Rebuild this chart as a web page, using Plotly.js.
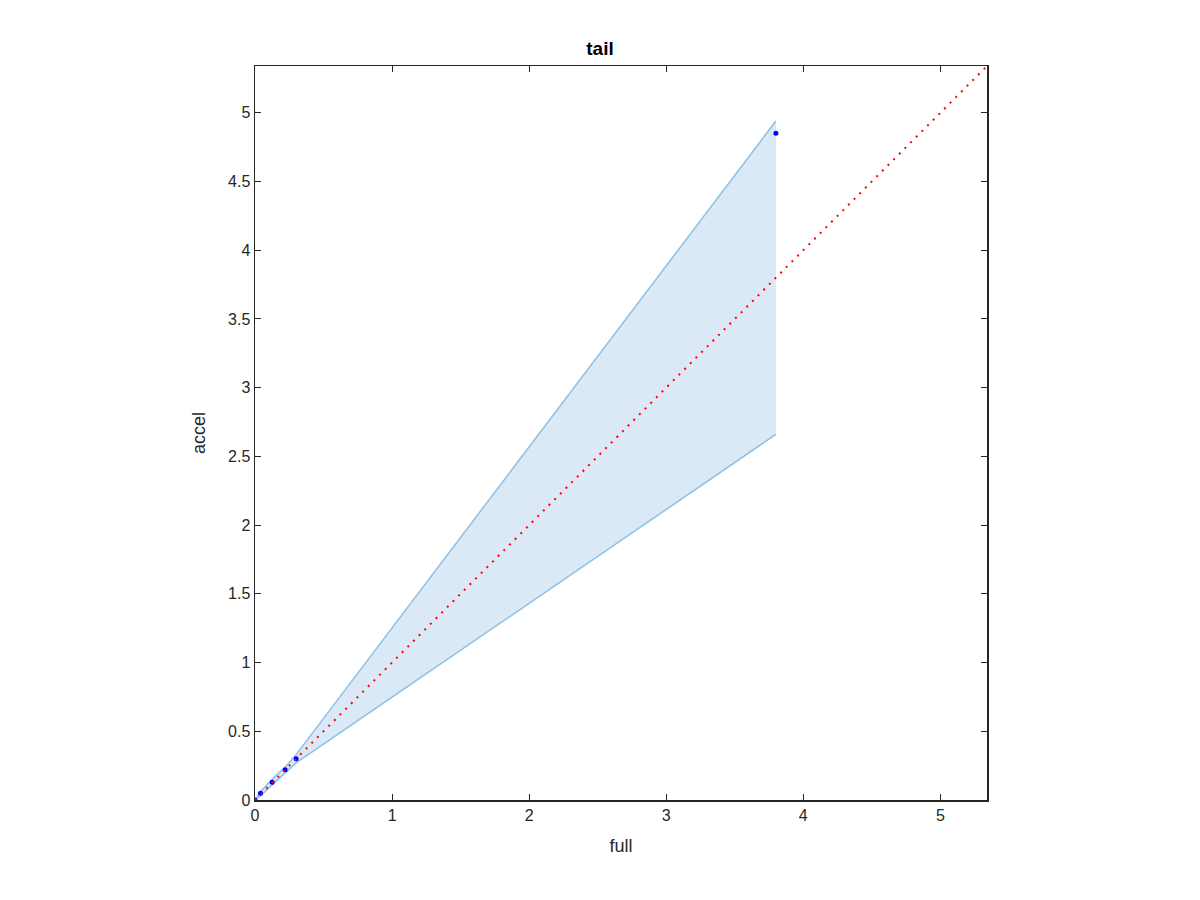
<!DOCTYPE html>
<html><head><meta charset="utf-8">
<script src="https://cdn.plot.ly/plotly-3.0.1.min.js"></script>
<style>body{margin:0;background:#fff}#chart{width:1200px;height:900px}</style>
</head><body><div id="chart"></div>
<script>
const pointX = [0, 0.04, 0.125, 0.22, 0.30, 3.80];
const pointY = [0, 0.05, 0.13, 0.22, 0.30, 4.85];
const bandX = [0, 0.04, 0.125, 0.22, 0.30, 3.80];
const bandUpper = [0, 0.06, 0.15, 0.24, 0.33, 4.94];
const bandLower = [0, 0.03, 0.11, 0.20, 0.27, 2.66];
const refX = [0, 5.34];
const refY = [0, 5.34];
const xTicks = [0, 1, 2, 3, 4, 5];
const yTicks = [0, 0.5, 1, 1.5, 2, 2.5, 3, 3.5, 4, 4.5, 5];
const axisMax = 5.34;

const edge = 'rgb(140,192,228)';
const fontFam = 'Liberation Sans, Arial, sans-serif';
const traces = [
  {x: bandX.concat(bandX.slice().reverse()), y: bandUpper.concat(bandLower.slice().reverse()),
   type:'scatter', mode:'lines', fill:'toself', fillcolor:'rgb(218,233,245)', line:{width:0, color:'rgba(0,0,0,0)'}, hoverinfo:'skip'},
  {x: bandX, y: bandUpper, type:'scatter', mode:'lines', line:{color:edge, width:1.5}},
  {x: bandX, y: bandLower, type:'scatter', mode:'lines', line:{color:edge, width:1.5}},
  {x: pointX, y: pointY, type:'scatter', mode:'markers', marker:{color:'rgb(0,0,255)', size:5}},
  {x: refX, y: refY, type:'scatter', mode:'lines', line:{color:'rgb(255,0,0)', width:2, dash:'2px,6px'}}
];
const ax = {
  range:[0, axisMax], showgrid:false, zeroline:false, showline:true, linecolor:'#262626', linewidth:1.5,
  mirror:'ticks', ticks:'inside', ticklen:6, tickwidth:1, tickcolor:'#262626',
  tickfont:{family:fontFam, size:16, color:'#262626'}
};
const layout = {
  width:1200, height:900, showlegend:false, paper_bgcolor:'#fff', plot_bgcolor:'#fff',
  margin:{l:255, r:213, t:66, b:100},
  title:{text:'<b>tail</b>', font:{family:fontFam, size:19, color:'#000'}, x:0.5, xanchor:'center', y:0.946, yanchor:'middle'},
  xaxis: Object.assign({}, ax, {tickvals:xTicks, ticktext:xTicks.map(String),
    title:{text:'full', font:{family:fontFam, size:18, color:'#262626'}, standoff:16}}),
  yaxis: Object.assign({}, ax, {tickvals:yTicks, ticktext:yTicks.map(String),
    title:{text:'accel', font:{family:fontFam, size:18, color:'#262626'}, standoff:17}})
};
Plotly.newPlot('chart', traces, layout, {staticPlot:true});
</script></body></html>
